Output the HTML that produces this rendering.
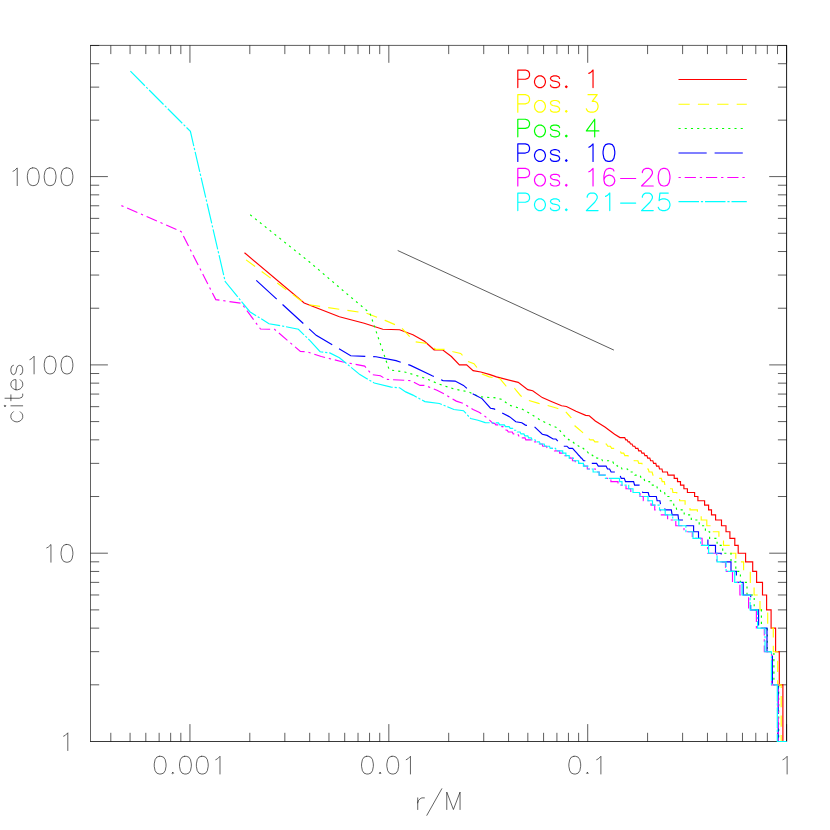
<!DOCTYPE html>
<html><head><meta charset="utf-8"><title>cites vs r/M</title>
<style>html,body{margin:0;padding:0;background:#fff;font-family:"Liberation Sans",sans-serif}svg{display:block}</style>
</head><body>
<svg width="830" height="830" viewBox="0 0 830 830">
<rect width="830" height="830" fill="#fff"/>
<path d="M90.50 45.10 V741.80" stroke="#000" stroke-width="0.62" fill="none"/>
<path d="M90.20 45.40 H786.90" stroke="#000" stroke-width="0.64" fill="none"/>
<path d="M90.20 741.50 H786.90" stroke="#000" stroke-width="0.78" fill="none"/>
<path d="M786.60 45.10 V741.80" stroke="#000" stroke-width="0.9" fill="none"/>
<path d="M110.80 45.40 v8.70 M110.80 741.50 v-8.70 M130.07 45.40 v8.70 M130.07 741.50 v-8.70 M145.82 45.40 v8.70 M145.82 741.50 v-8.70 M159.14 45.40 v8.70 M159.14 741.50 v-8.70 M170.67 45.40 v8.70 M170.67 741.50 v-8.70 M180.84 45.40 v8.70 M180.84 741.50 v-8.70 M189.94 45.40 v17.40 M189.94 741.50 v-17.40 M249.81 45.40 v8.70 M249.81 741.50 v-8.70 M284.84 45.40 v8.70 M284.84 741.50 v-8.70 M309.68 45.40 v8.70 M309.68 741.50 v-8.70 M328.96 45.40 v8.70 M328.96 741.50 v-8.70 M344.71 45.40 v8.70 M344.71 741.50 v-8.70 M358.02 45.40 v8.70 M358.02 741.50 v-8.70 M369.55 45.40 v8.70 M369.55 741.50 v-8.70 M379.73 45.40 v8.70 M379.73 741.50 v-8.70 M388.83 45.40 v17.40 M388.83 741.50 v-17.40 M448.70 45.40 v8.70 M448.70 741.50 v-8.70 M483.72 45.40 v8.70 M483.72 741.50 v-8.70 M508.57 45.40 v8.70 M508.57 741.50 v-8.70 M527.84 45.40 v8.70 M527.84 741.50 v-8.70 M543.59 45.40 v8.70 M543.59 741.50 v-8.70 M556.91 45.40 v8.70 M556.91 741.50 v-8.70 M568.44 45.40 v8.70 M568.44 741.50 v-8.70 M578.61 45.40 v8.70 M578.61 741.50 v-8.70 M587.71 45.40 v17.40 M587.71 741.50 v-17.40 M647.58 45.40 v8.70 M647.58 741.50 v-8.70 M682.61 45.40 v8.70 M682.61 741.50 v-8.70 M707.46 45.40 v8.70 M707.46 741.50 v-8.70 M726.73 45.40 v8.70 M726.73 741.50 v-8.70 M742.48 45.40 v8.70 M742.48 741.50 v-8.70 M755.79 45.40 v8.70 M755.79 741.50 v-8.70 M767.33 45.40 v8.70 M767.33 741.50 v-8.70 M777.50 45.40 v8.70 M777.50 741.50 v-8.70 M786.60 45.40 v17.40 M786.60 741.50 v-17.40 M90.50 684.82 h8.70 M786.60 684.82 h-8.70 M90.50 651.66 h8.70 M786.60 651.66 h-8.70 M90.50 628.13 h8.70 M786.60 628.13 h-8.70 M90.50 609.88 h8.70 M786.60 609.88 h-8.70 M90.50 594.97 h8.70 M786.60 594.97 h-8.70 M90.50 582.37 h8.70 M786.60 582.37 h-8.70 M90.50 571.45 h8.70 M786.60 571.45 h-8.70 M90.50 561.82 h8.70 M786.60 561.82 h-8.70 M90.50 553.20 h17.40 M786.60 553.20 h-17.40 M90.50 496.52 h8.70 M786.60 496.52 h-8.70 M90.50 463.36 h8.70 M786.60 463.36 h-8.70 M90.50 439.83 h8.70 M786.60 439.83 h-8.70 M90.50 421.58 h8.70 M786.60 421.58 h-8.70 M90.50 406.67 h8.70 M786.60 406.67 h-8.70 M90.50 394.07 h8.70 M786.60 394.07 h-8.70 M90.50 383.15 h8.70 M786.60 383.15 h-8.70 M90.50 373.52 h8.70 M786.60 373.52 h-8.70 M90.50 364.90 h17.40 M786.60 364.90 h-17.40 M90.50 308.22 h8.70 M786.60 308.22 h-8.70 M90.50 275.06 h8.70 M786.60 275.06 h-8.70 M90.50 251.53 h8.70 M786.60 251.53 h-8.70 M90.50 233.28 h8.70 M786.60 233.28 h-8.70 M90.50 218.37 h8.70 M786.60 218.37 h-8.70 M90.50 205.77 h8.70 M786.60 205.77 h-8.70 M90.50 194.85 h8.70 M786.60 194.85 h-8.70 M90.50 185.22 h8.70 M786.60 185.22 h-8.70 M90.50 176.60 h17.40 M786.60 176.60 h-17.40 M90.50 120.15 h8.70 M786.60 120.15 h-8.70 M90.50 87.13 h8.70 M786.60 87.13 h-8.70 M90.50 63.71 h8.70 M786.60 63.71 h-8.70 M90.50 45.53 h8.70 M786.60 45.53 h-8.70" fill="none" stroke="#000" stroke-width="0.64" stroke-linecap="butt"/>
<path d="M159.29 756.30 L156.77 757.14 L155.08 759.67 L154.24 763.88 L154.24 766.41 L155.08 770.63 L156.77 773.16 L159.29 774.00 L160.98 774.00 L163.51 773.16 L165.20 770.63 L166.04 766.41 L166.04 763.88 L165.20 759.67 L163.51 757.14 L160.98 756.30 L159.29 756.30 M172.78 772.31 L171.94 773.16 L172.78 774.00 L173.63 773.16 L172.78 772.31 M184.58 756.30 L182.06 757.14 L180.37 759.67 L179.53 763.88 L179.53 766.41 L180.37 770.63 L182.06 773.16 L184.58 774.00 L186.27 774.00 L188.80 773.16 L190.49 770.63 L191.33 766.41 L191.33 763.88 L190.49 759.67 L188.80 757.14 L186.27 756.30 L184.58 756.30 M201.44 756.30 L198.92 757.14 L197.23 759.67 L196.39 763.88 L196.39 766.41 L197.23 770.63 L198.92 773.16 L201.44 774.00 L203.13 774.00 L205.66 773.16 L207.35 770.63 L208.19 766.41 L208.19 763.88 L207.35 759.67 L205.66 757.14 L203.13 756.30 L201.44 756.30 M215.78 759.67 L217.46 758.83 L219.99 756.30 L219.99 774.00" fill="none" stroke="#000" stroke-width="0.62" stroke-linecap="round" stroke-linejoin="round"/>
<path d="M366.61 756.30 L364.08 757.14 L362.40 759.67 L361.55 763.88 L361.55 766.41 L362.40 770.63 L364.08 773.16 L366.61 774.00 L368.30 774.00 L370.83 773.16 L372.51 770.63 L373.35 766.41 L373.35 763.88 L372.51 759.67 L370.83 757.14 L368.30 756.30 L366.61 756.30 M380.10 772.31 L379.26 773.16 L380.10 774.00 L380.94 773.16 L380.10 772.31 M391.90 756.30 L389.37 757.14 L387.69 759.67 L386.84 763.88 L386.84 766.41 L387.69 770.63 L389.37 773.16 L391.90 774.00 L393.59 774.00 L396.12 773.16 L397.80 770.63 L398.64 766.41 L398.64 763.88 L397.80 759.67 L396.12 757.14 L393.59 756.30 L391.90 756.30 M406.23 759.67 L407.92 758.83 L410.45 756.30 L410.45 774.00" fill="none" stroke="#000" stroke-width="0.62" stroke-linecap="round" stroke-linejoin="round"/>
<path d="M573.93 756.30 L571.40 757.14 L569.71 759.67 L568.87 763.88 L568.87 766.41 L569.71 770.63 L571.40 773.16 L573.93 774.00 L575.61 774.00 L578.14 773.16 L579.83 770.63 L580.67 766.41 L580.67 763.88 L579.83 759.67 L578.14 757.14 L575.61 756.30 L573.93 756.30 M587.41 772.31 L586.57 773.16 L587.41 774.00 L588.26 773.16 L587.41 772.31 M596.69 759.67 L598.37 758.83 L600.90 756.30 L600.90 774.00" fill="none" stroke="#000" stroke-width="0.62" stroke-linecap="round" stroke-linejoin="round"/>
<path d="M782.93 759.67 L784.61 758.83 L787.14 756.30 L787.14 774.00" fill="none" stroke="#000" stroke-width="0.62" stroke-linecap="round" stroke-linejoin="round"/>
<path d="M63.60 736.17 L65.28 735.33 L67.81 732.80 L67.81 750.50" fill="none" stroke="#000" stroke-width="0.62" stroke-linecap="round" stroke-linejoin="round"/>
<path d="M46.74 547.87 L48.42 547.03 L50.95 544.50 L50.95 562.20 M66.13 544.50 L63.60 545.34 L61.91 547.87 L61.07 552.08 L61.07 554.61 L61.91 558.83 L63.60 561.36 L66.13 562.20 L67.81 562.20 L70.34 561.36 L72.03 558.83 L72.87 554.61 L72.87 552.08 L72.03 547.87 L70.34 545.34 L67.81 544.50 L66.13 544.50" fill="none" stroke="#000" stroke-width="0.62" stroke-linecap="round" stroke-linejoin="round"/>
<path d="M29.88 359.57 L31.56 358.73 L34.09 356.20 L34.09 373.90 M49.27 356.20 L46.74 357.04 L45.05 359.57 L44.21 363.78 L44.21 366.31 L45.05 370.53 L46.74 373.06 L49.27 373.90 L50.95 373.90 L53.48 373.06 L55.17 370.53 L56.01 366.31 L56.01 363.78 L55.17 359.57 L53.48 357.04 L50.95 356.20 L49.27 356.20 M66.13 356.20 L63.60 357.04 L61.91 359.57 L61.07 363.78 L61.07 366.31 L61.91 370.53 L63.60 373.06 L66.13 373.90 L67.81 373.90 L70.34 373.06 L72.03 370.53 L72.87 366.31 L72.87 363.78 L72.03 359.57 L70.34 357.04 L67.81 356.20 L66.13 356.20" fill="none" stroke="#000" stroke-width="0.62" stroke-linecap="round" stroke-linejoin="round"/>
<path d="M13.02 171.27 L14.70 170.43 L17.23 167.90 L17.23 185.60 M32.41 167.90 L29.88 168.74 L28.19 171.27 L27.35 175.48 L27.35 178.01 L28.19 182.23 L29.88 184.76 L32.41 185.60 L34.09 185.60 L36.62 184.76 L38.31 182.23 L39.15 178.01 L39.15 175.48 L38.31 171.27 L36.62 168.74 L34.09 167.90 L32.41 167.90 M49.27 167.90 L46.74 168.74 L45.05 171.27 L44.21 175.48 L44.21 178.01 L45.05 182.23 L46.74 184.76 L49.27 185.60 L50.95 185.60 L53.48 184.76 L55.17 182.23 L56.01 178.01 L56.01 175.48 L55.17 171.27 L53.48 168.74 L50.95 167.90 L49.27 167.90 M66.13 167.90 L63.60 168.74 L61.91 171.27 L61.07 175.48 L61.07 178.01 L61.91 182.23 L63.60 184.76 L66.13 185.60 L67.81 185.60 L70.34 184.76 L72.03 182.23 L72.87 178.01 L72.87 175.48 L72.03 171.27 L70.34 168.74 L67.81 167.90 L66.13 167.90" fill="none" stroke="#000" stroke-width="0.62" stroke-linecap="round" stroke-linejoin="round"/>
<path d="M417.73 797.88 L417.73 809.50 M417.73 802.86 L418.56 800.37 L420.22 798.71 L421.88 797.88 L424.38 797.88 M441.80 788.75 L426.86 815.31 M446.78 809.50 L446.78 792.07 L453.42 809.50 L460.06 792.07 L460.06 809.50" fill="none" stroke="#000" stroke-width="0.62" stroke-linecap="round" stroke-linejoin="round"/>
<path d="M13.43 411.72 L11.74 413.41 L10.90 415.10 L10.90 417.63 L11.74 419.31 L13.43 421.00 L15.96 421.84 L17.64 421.84 L20.17 421.00 L21.86 419.31 L22.70 417.63 L22.70 415.10 L21.86 413.41 L20.17 411.72 M5.00 406.67 L5.84 405.82 L5.00 404.98 L4.15 405.82 L5.00 406.67 M10.90 405.82 L22.70 405.82 M5.00 398.24 L19.33 398.24 L21.86 397.39 L22.70 395.71 L22.70 394.02 M10.90 400.77 L10.90 394.86 M15.96 389.81 L15.96 379.69 L14.27 379.69 L12.58 380.53 L11.74 381.38 L10.90 383.06 L10.90 385.59 L11.74 387.28 L13.43 388.96 L15.96 389.81 L17.64 389.81 L20.17 388.96 L21.86 387.28 L22.70 385.59 L22.70 383.06 L21.86 381.38 L20.17 379.69 M13.43 365.36 L11.74 366.20 L10.90 368.73 L10.90 371.26 L11.74 373.79 L13.43 374.63 L15.11 373.79 L15.96 372.10 L16.80 367.89 L17.64 366.20 L19.33 365.36 L20.17 365.36 L21.86 366.20 L22.70 368.73 L22.70 371.26 L21.86 373.79 L20.17 374.63" fill="none" stroke="#000" stroke-width="0.62" stroke-linecap="round" stroke-linejoin="round"/>
<path d="M397.7 250.5 L613.9 350.1" stroke="#000" stroke-width="0.64" fill="none"/>
<path d="M244.5 252.7 L304.2 303.0 L339.4 316.7 L364.2 323.3 L382.8 329.3 L399.6 329.8 L412.9 334.8 L424.5 341.3 L434.1 349.8 L442.5 349.8 L451.4 356.5 L459.4 364.9 L466.6 364.9 L473.1 370.6 L480.8 372.0 L490.0 374.6 L496.5 376.9 L518.2 382.4 L527.8 389.6 L532.7 390.8 L542.3 397.6 L551.9 401.7 L561.6 405.8 L566.4 406.5 L576.0 411.3 L585.7 415.4 L589.3 415.7 L595.3 421.0 L604.9 427.0 L614.6 434.2 L620.0 437.6 L623.8 437.6 L624.7 437.6 L625.7 439.8 L627.1 439.8 L628.1 441.9 L629.5 441.9 L630.5 444.0 L632.0 444.0 L633.0 446.2 L634.8 446.2 L635.7 448.4 L637.9 448.4 L638.7 450.8 L641.0 450.8 L641.9 453.1 L644.0 453.1 L644.9 455.6 L646.9 455.6 L647.7 458.1 L649.8 458.1 L650.6 460.7 L652.8 460.7 L653.6 463.4 L655.8 463.4 L656.5 466.1 L658.8 466.1 L659.5 469.0 L662.0 469.0 L662.6 472.0 L667.4 472.0 L668.0 475.1 L674.2 475.1 L674.2 478.3 L677.5 478.3 L677.5 481.6 L680.5 481.6 L680.5 485.1 L683.9 485.1 L683.9 488.7 L687.4 488.7 L687.4 492.5 L694.6 492.5 L694.6 496.5 L697.9 496.5 L697.9 500.7 L704.6 500.7 L704.6 505.1 L708.6 505.1 L708.6 509.8 L711.5 509.8 L711.5 514.8 L715.6 514.8 L715.6 520.0 L721.5 520.0 L721.5 525.7 L726.0 525.7 L726.0 531.7 L729.9 531.7 L729.9 538.3 L734.8 538.3 L734.8 545.4 L738.2 545.4 L738.2 553.2 L745.6 553.2 L745.6 561.8 L752.7 561.8 L752.7 571.4 L756.6 571.4 L756.6 582.4 L762.5 582.4 L762.5 595.0 L766.6 595.0 L766.6 609.9 L771.1 609.9 L771.1 628.1 L775.6 628.1 L775.6 651.7 L779.3 651.7 L779.3 684.8 L782.9 684.8 L782.9 741.5 L786.6 741.5" fill="none" stroke="#f00" stroke-width="1.15" stroke-linejoin="miter" stroke-linecap="butt"/>
<path d="M246.1 259.9 L306.0 304.3 L341.0 309.5 L365.8 313.0 L385.1 320.4 L400.8 327.1 L414.2 341.6 L425.7 343.3 L435.9 349.3 L445.0 349.3 L453.2 351.7 L460.7 353.4 L467.6 361.3 L474.0 363.7 L482.0 374.0 L489.3 376.9 L495.0 377.9" fill="none" stroke="#ff0" stroke-width="1.15" stroke-linejoin="miter" stroke-linecap="butt" stroke-dasharray="11.2 8.2" stroke-dashoffset="0.00"/>
<path d="M495.0 377.9 L500.1 378.8 L506.1 386.0 L514.6 388.4 L520.6 395.7 L529.0 400.5 L538.7 403.4 L547.1 405.3 L555.5 407.7 L565.2 411.3 L570.0 416.5" fill="none" stroke="#ff0" stroke-width="1.15" stroke-linejoin="miter" stroke-linecap="butt" stroke-dasharray="11.2 8.2" stroke-dashoffset="15.78"/>
<path d="M570.0 416.5 L571.2 417.8 L574.8 425.8 L582.0 431.8 L588.1 438.3 L588.5 438.3 L590.1 439.8 L593.3 439.8 L594.9 441.9 L600.3 441.9 L601.7 444.0 L606.4 444.0 L607.7 446.2 L610.4 446.2 L611.6 448.4 L615.3 448.4 L616.5 450.8 L620.1 450.8 L621.2 453.1 L623.7 453.1 L624.8 455.6 L628.0 455.6 L629.0 458.1 L633.2 458.1 L634.1 460.7 L637.9 460.7 L638.8 463.4 L641.9 463.4 L642.8 466.1 L644.9 466.1 L645.8 469.0 L648.3 469.0 L649.1 472.0 L652.1 472.0 L652.9 475.1 L656.4 475.1 L657.1 478.3 L661.4 478.3 L662.2 481.6 L664.3 481.6 L664.9 485.1 L668.0 485.1 L668.6 488.7 L672.3 488.7 L672.9 492.5 L676.8 492.5 L676.8 496.5 L679.6 496.5 L679.6 500.7 L685.1 500.7 L685.1 505.1 L690.0 505.1 L690.0 509.8 L697.4 509.8 L697.4 514.8 L701.2 514.8 L701.2 520.0 L706.0 520.0" fill="none" stroke="#ff0" stroke-width="1.15" stroke-linejoin="miter" stroke-linecap="butt" stroke-dasharray="11.2 8.2" stroke-dashoffset="9.18"/>
<path d="M706.0 520.0 L706.8 520.0 L706.8 525.7 L712.3 525.7 L712.3 531.7 L718.9 531.7 L718.9 538.3 L723.5 538.3 L723.5 545.4 L730.5 545.4 L730.5 553.2 L735.8 553.2 L735.8 561.8 L743.6 561.8 L743.6 571.4 L750.3 571.4 L750.3 582.4 L754.1 582.4 L754.1 595.0 L760.0 595.0 L760.0 609.9 L767.7 609.9 L767.7 628.1 L773.3 628.1 L773.3 651.7 L777.7 651.7 L777.7 684.8 L781.2 684.8 L781.2 741.5 L786.6 741.5" fill="none" stroke="#ff0" stroke-width="1.15" stroke-linejoin="miter" stroke-linecap="butt" stroke-dasharray="11.2 8.2" stroke-dashoffset="0.90"/>
<path d="M250.2 214.8 L310.1 262.5 L345.1 292.3 L369.9 313.1 L389.2 369.8 L405.7 372.2 L424.9 378.2 L439.4 384.2 L453.9 389.0 L468.3 391.8 L479.6 396.8 L490.0 397.5 L494.1 397.6 L501.3 399.3 L509.8 405.3 L521.8 408.9 L530.2 413.7 L539.9 419.8 L549.5 424.6 L558.0 428.2 L562.8 434.2 L566.0 437.5 L566.7 437.5 L568.8 439.8 L569.4 439.8 L571.5 441.9 L572.9 441.9 L574.9 444.0 L576.6 444.0 L578.5 446.2 L580.1 446.2 L582.0 448.4 L583.4 448.4 L585.2 450.8 L586.7 450.8 L588.4 453.1 L590.9 453.1 L592.5 455.6 L595.2 455.6 L596.8 458.1 L601.1 458.1 L602.5 460.7 L612.3 460.7 L613.6 463.4 L616.1 463.4 L617.3 466.1 L620.8 466.1 L622.0 469.0 L627.5 469.0 L628.6 472.0 L633.9 472.0 L634.9 475.1 L640.1 475.1 L641.1 478.3 L644.0 478.3 L644.8 481.6 L649.6 481.6 L650.4 485.1 L656.6 485.1 L657.4 488.7 L660.1 488.7 L660.9 492.5 L664.6 492.5 L665.4 496.5 L669.5 496.5 L670.1 500.7 L673.2 500.7 L673.8 505.1 L676.0 505.1 L676.6 509.8 L684.2 509.8 L684.2 514.8 L691.3 514.8 L691.3 520.0 L699.2 520.0 L699.2 525.7 L705.4 525.7 L705.4 531.7 L709.6 531.7 L709.6 538.3 L717.1 538.3 L717.1 545.4 L722.7 545.4 L722.7 553.2 L731.0 553.2 L731.0 561.8 L735.8 561.8 L735.8 571.4 L740.4 571.4 L740.4 582.4 L747.0 582.4 L747.0 595.0 L754.2 595.0 L754.2 609.9 L761.4 609.9 L761.4 628.1 L767.4 628.1 L767.4 651.7 L773.9 651.7 L773.9 684.8 L778.7 684.8 L778.7 741.5 L786.6 741.5" fill="none" stroke="#0f0" stroke-width="1.15" stroke-linejoin="miter" stroke-linecap="butt" stroke-dasharray="2.1 4.12" stroke-dashoffset="0"/>
<path d="M256.3 280.4 L316.2 335.3 L350.7 355.8 L376.0 356.7 L396.0 360.6 L410.5 365.4 L432.2 375.8 L443.0 380.6 L455.1 381.1 L463.5 385.4 L473.1 393.9 L482.0 398.6 L490.5 408.2 L494.1 408.9 L502.0 413.0 L509.8 416.9 L515.8 421.7 L521.8 422.7 L525.4 425.1 L533.9 426.3 L542.3 434.2 L547.1 435.4 L553.1 439.0 L555.9 439.0 L558.5 441.9 L558.5 441.9 L561.0 444.0 L561.1 444.0 L563.6 446.2 L566.9 446.2 L569.2 448.4 L572.6 448.4 L574.8 450.8 L574.8 450.8 L576.9 453.1 L576.9 453.1 L579.0 455.6 L579.2 455.6 L581.2 458.1 L581.6 458.1 L583.5 460.7 L586.9 460.7 L588.7 463.4 L596.6 463.4 L598.3 466.1 L606.1 466.1 L607.5 469.0 L609.6 469.0 L611.1 472.0 L614.9 472.0 L616.3 475.1 L619.9 475.1 L621.2 478.3 L624.3 478.3 L625.5 481.6 L633.6 481.6 L634.6 485.1 L636.0 485.1" fill="none" stroke="#00f" stroke-width="1.15" stroke-linejoin="miter" stroke-linecap="butt" stroke-dasharray="28.2 7.9" stroke-dashoffset="0.50"/>
<path d="M636.0 485.1 L639.1 485.1 L640.1 488.7 L641.7 488.7 L642.7 492.5 L648.2 492.5 L649.2 496.5 L656.3 496.5 L657.1 500.7 L659.9 500.7 L660.7 505.1 L664.2 505.1 L665.0 509.8 L671.3 509.8 L672.1 514.8 L678.0 514.8 L678.6 520.0 L685.0 520.0 L685.6 525.7 L693.6 525.7 L693.6 531.7 L698.5 531.7 L698.5 538.3 L707.9 538.3 L707.9 545.4 L715.5 545.4 L715.5 553.2 L721.2 553.2 L721.2 561.8 L731.0 561.8 L731.0 571.4 L736.4 571.4 L736.4 582.4 L743.2 582.4 L743.2 595.0 L750.7 595.0 L750.7 609.9 L758.6 609.9 L758.6 628.1 L767.0 628.1 L767.0 651.7 L772.4 651.7 L772.4 684.8 L778.2 684.8 L778.2 741.5 L786.6 741.5" fill="none" stroke="#00f" stroke-width="1.15" stroke-linejoin="miter" stroke-linecap="butt" stroke-dasharray="28.2 7.9" stroke-dashoffset="24.65"/>
<path d="M121.4 205.6 L181.2 231.6 L215.8 299.6 L241.5 303.3 L260.5 329.0 L274.5 329.3 L300.4 351.4 L306.9 351.7 L321.3 356.5 L343.0 362.0 L364.7 366.1 L371.9 374.6 L380.4 375.8 L386.4 379.4 L410.5 380.6 L420.1 385.4 L424.9 385.4 L437.0 390.2 L444.2 393.9 L456.3 401.1 L463.5 403.5 L473.1 409.5 L479.6 412.5 L488.1 418.6 L492.9 423.4 L494.7 423.4 L495.8 424.9 L500.7 424.9 L501.8 426.6 L502.9 426.6 L503.9 428.4 L505.1 428.4 L506.1 430.2 L507.3 430.2 L508.3 432.0 L512.3 432.0 L513.2 433.9 L517.8 433.9 L518.7 435.8 L521.3 435.8 L522.2 437.8 L525.0 437.8 L525.8 439.8 L531.8 439.8 L532.5 441.9 L538.0 441.9 L538.7 444.0 L542.2 444.0 L542.8 446.2 L546.5 446.2 L547.1 448.4 L554.5 448.4 L554.5 450.8 L559.6 450.8 L559.6 453.1 L564.9 453.1 L564.9 455.6 L569.8 455.6 L569.8 458.1 L572.5 458.1 L572.5 460.7 L575.3 460.7 L575.3 463.4 L583.8 463.4 L583.8 466.1 L587.3 466.1 L587.3 469.0 L595.4 469.0 L595.4 472.0 L599.2 472.0 L599.2 475.1 L605.0 475.1 L605.0 478.3 L610.9 478.3 L610.9 481.6 L618.0 481.6 L618.0 485.1 L626.0 485.1 L626.0 488.7 L630.8 488.7 L630.8 492.5 L640.0 492.5 L640.0 496.5 L643.3 496.5 L643.3 500.7 L651.0 500.7 L651.0 505.1 L654.7 505.1 L654.7 509.8 L660.5 509.8 L660.5 514.8 L667.6 514.8 L667.6 520.0 L675.8 520.0 L675.8 525.7 L684.0 525.7 L684.0 531.7 L692.3 531.7 L692.3 538.3 L702.1 538.3 L702.1 545.4 L707.6 545.4 L707.6 553.2 L716.7 553.2 L716.7 561.8 L725.5 561.8 L725.5 571.4 L732.5 571.4 L732.5 582.4 L739.9 582.4 L739.9 595.0 L748.6 595.0 L748.6 609.9 L756.4 609.9 L756.4 628.1 L764.3 628.1 L764.3 651.7 L771.6 651.7 L771.6 684.8 L778.2 684.8 L778.2 741.5 L786.6 741.5" fill="none" stroke="#f0f" stroke-width="1.15" stroke-linejoin="miter" stroke-linecap="butt" stroke-dasharray="11.2 3.9 2.3 3.9" stroke-dashoffset="15.1"/>
<path d="M130.4 71.2 L190.4 131.4 L225.2 281.6 L249.8 311.7 L269.0 323.7 L285.1 326.5 L298.4 329.3 L310.0 340.6 L320.1 351.7 L329.8 352.9 L339.4 357.7 L359.9 374.6 L374.3 383.0 L391.2 387.1 L399.6 387.8 L405.7 391.9 L412.9 395.1 L424.9 401.6 L439.4 403.5 L453.9 409.5 L463.5 410.7 L470.7 418.6 L478.0 420.2 L485.2 422.6 L494.1 422.9 L498.5 422.9 L499.7 424.9 L504.3 424.9 L505.5 426.6 L509.1 426.6 L510.2 428.4 L512.7 428.4 L513.7 430.2 L516.4 430.2 L517.3 432.0 L520.1 432.0 L521.0 433.9 L523.9 433.9 L524.8 435.8 L527.8 435.8 L528.6 437.8 L531.3 437.8 L532.1 439.8 L535.1 439.8 L535.9 441.9 L539.4 441.9 L540.2 444.0 L544.2 444.0 L544.9 446.2 L549.5 446.2 L550.2 448.4 L555.6 448.4 L556.2 450.8 L562.7 450.8 L562.7 453.1 L565.9 453.1 L565.9 455.6 L569.2 455.6 L569.2 458.1 L573.4 458.1 L573.4 460.7 L578.6 460.7 L578.6 463.4 L583.4 463.4 L583.4 466.1 L587.9 466.1 L587.9 469.0 L593.1 469.0 L593.1 472.0 L599.1 472.0 L599.1 475.1 L605.4 475.1 L605.4 478.3 L619.5 478.3 L619.5 481.6 L622.0 481.6 L622.0 485.1 L628.7 485.1 L628.7 488.7 L633.0 488.7 L633.0 492.5 L639.5 492.5 L639.5 496.5 L648.0 496.5 L648.0 500.7 L652.5 500.7 L652.5 505.1 L659.5 505.1 L659.5 509.8 L665.2 509.8 L665.2 514.8 L672.7 514.8 L672.7 520.0 L678.8 520.0 L678.8 525.7 L685.9 525.7 L685.9 531.7 L693.0 531.7 L693.0 538.3 L700.6 538.3 L700.6 545.4 L708.6 545.4 L708.6 553.2 L717.1 553.2 L717.1 561.8 L726.1 561.8 L726.1 571.4 L734.7 571.4 L734.7 582.4 L742.0 582.4 L742.0 595.0 L750.1 595.0 L750.1 609.9 L757.6 609.9 L757.6 628.1 L765.0 628.1 L765.0 651.7 L771.4 651.7 L771.4 684.8 L777.3 684.8 L777.3 741.5 L786.6 741.5" fill="none" stroke="#0ff" stroke-width="1.15" stroke-linejoin="miter" stroke-linecap="butt" stroke-dasharray="20.5 1.9 2.2 1.9" stroke-dashoffset="0"/>
<path d="M517.80 87.60 L517.80 70.04 L525.32 70.04 L527.83 70.88 L528.67 71.72 L529.50 73.39 L529.50 75.90 L528.67 77.57 L527.83 78.40 L525.32 79.24 L517.80 79.24 M538.70 75.90 L537.03 76.73 L535.36 78.40 L534.52 80.91 L534.52 82.58 L535.36 85.09 L537.03 86.76 L538.70 87.60 L541.21 87.60 L542.88 86.76 L544.55 85.09 L545.39 82.58 L545.39 80.91 L544.55 78.40 L542.88 76.73 L541.21 75.90 L538.70 75.90 M559.60 78.40 L558.76 76.73 L556.26 75.90 L553.75 75.90 L551.24 76.73 L550.40 78.40 L551.24 80.08 L552.91 80.91 L557.09 81.75 L558.76 82.58 L559.60 84.26 L559.60 85.09 L558.76 86.76 L556.26 87.60 L553.75 87.60 L551.24 86.76 L550.40 85.09 M566.29 85.93 L565.45 86.76 L566.29 87.60 L567.12 86.76 L566.29 85.93 M588.86 73.39 L590.53 72.55 L593.04 70.04 L593.04 87.60" fill="none" stroke="#f00" stroke-width="1.2" stroke-linecap="round" stroke-linejoin="round"/>
<path d="M678.5 79.5 L746.8 79.5" fill="none" stroke="#f00" stroke-width="1.15" stroke-linejoin="miter" stroke-linecap="butt"/>
<path d="M517.80 112.20 L517.80 94.64 L525.32 94.64 L527.83 95.48 L528.67 96.32 L529.50 97.99 L529.50 100.50 L528.67 102.17 L527.83 103.00 L525.32 103.84 L517.80 103.84 M538.70 100.50 L537.03 101.33 L535.36 103.00 L534.52 105.51 L534.52 107.18 L535.36 109.69 L537.03 111.36 L538.70 112.20 L541.21 112.20 L542.88 111.36 L544.55 109.69 L545.39 107.18 L545.39 105.51 L544.55 103.00 L542.88 101.33 L541.21 100.50 L538.70 100.50 M559.60 103.00 L558.76 101.33 L556.26 100.50 L553.75 100.50 L551.24 101.33 L550.40 103.00 L551.24 104.68 L552.91 105.51 L557.09 106.35 L558.76 107.18 L559.60 108.86 L559.60 109.69 L558.76 111.36 L556.26 112.20 L553.75 112.20 L551.24 111.36 L550.40 109.69 M566.29 110.53 L565.45 111.36 L566.29 112.20 L567.12 111.36 L566.29 110.53 M588.02 94.64 L597.22 94.64 L592.20 101.33 L594.71 101.33 L596.38 102.17 L597.22 103.00 L598.06 105.51 L598.06 107.18 L597.22 109.69 L595.55 111.36 L593.04 112.20 L590.53 112.20 L588.02 111.36 L587.19 110.53 L586.35 108.86" fill="none" stroke="#ff0" stroke-width="1.2" stroke-linecap="round" stroke-linejoin="round"/>
<path d="M678.5 104.2 L746.8 104.2" fill="none" stroke="#ff0" stroke-width="1.15" stroke-linejoin="miter" stroke-linecap="butt" stroke-dasharray="11.2 8.2" stroke-dashoffset="0"/>
<path d="M517.80 136.80 L517.80 119.24 L525.32 119.24 L527.83 120.08 L528.67 120.92 L529.50 122.59 L529.50 125.10 L528.67 126.77 L527.83 127.60 L525.32 128.44 L517.80 128.44 M538.70 125.10 L537.03 125.93 L535.36 127.60 L534.52 130.11 L534.52 131.78 L535.36 134.29 L537.03 135.96 L538.70 136.80 L541.21 136.80 L542.88 135.96 L544.55 134.29 L545.39 131.78 L545.39 130.11 L544.55 127.60 L542.88 125.93 L541.21 125.10 L538.70 125.10 M559.60 127.60 L558.76 125.93 L556.26 125.10 L553.75 125.10 L551.24 125.93 L550.40 127.60 L551.24 129.28 L552.91 130.11 L557.09 130.95 L558.76 131.78 L559.60 133.46 L559.60 134.29 L558.76 135.96 L556.26 136.80 L553.75 136.80 L551.24 135.96 L550.40 134.29 M566.29 135.13 L565.45 135.96 L566.29 136.80 L567.12 135.96 L566.29 135.13 M594.71 119.24 L586.35 130.95 L598.89 130.95 M594.71 119.24 L594.71 136.80" fill="none" stroke="#0f0" stroke-width="1.2" stroke-linecap="round" stroke-linejoin="round"/>
<path d="M678.5 128.5 L746.8 128.5" fill="none" stroke="#0f0" stroke-width="1.15" stroke-linejoin="miter" stroke-linecap="butt" stroke-dasharray="2.1 4.12" stroke-dashoffset="0"/>
<path d="M517.80 161.40 L517.80 143.84 L525.32 143.84 L527.83 144.68 L528.67 145.52 L529.50 147.19 L529.50 149.70 L528.67 151.37 L527.83 152.20 L525.32 153.04 L517.80 153.04 M538.70 149.70 L537.03 150.53 L535.36 152.20 L534.52 154.71 L534.52 156.38 L535.36 158.89 L537.03 160.56 L538.70 161.40 L541.21 161.40 L542.88 160.56 L544.55 158.89 L545.39 156.38 L545.39 154.71 L544.55 152.20 L542.88 150.53 L541.21 149.70 L538.70 149.70 M559.60 152.20 L558.76 150.53 L556.26 149.70 L553.75 149.70 L551.24 150.53 L550.40 152.20 L551.24 153.88 L552.91 154.71 L557.09 155.55 L558.76 156.38 L559.60 158.06 L559.60 158.89 L558.76 160.56 L556.26 161.40 L553.75 161.40 L551.24 160.56 L550.40 158.89 M566.29 159.73 L565.45 160.56 L566.29 161.40 L567.12 160.56 L566.29 159.73 M588.86 147.19 L590.53 146.35 L593.04 143.84 L593.04 161.40 M608.09 143.84 L605.58 144.68 L603.91 147.19 L603.07 151.37 L603.07 153.88 L603.91 158.06 L605.58 160.56 L608.09 161.40 L609.76 161.40 L612.27 160.56 L613.94 158.06 L614.78 153.88 L614.78 151.37 L613.94 147.19 L612.27 144.68 L609.76 143.84 L608.09 143.84" fill="none" stroke="#00f" stroke-width="1.2" stroke-linecap="round" stroke-linejoin="round"/>
<path d="M678.5 153.0 L746.8 153.0" fill="none" stroke="#00f" stroke-width="1.15" stroke-linejoin="miter" stroke-linecap="butt" stroke-dasharray="28.2 7.9" stroke-dashoffset="0"/>
<path d="M517.80 186.00 L517.80 168.44 L525.32 168.44 L527.83 169.28 L528.67 170.12 L529.50 171.79 L529.50 174.30 L528.67 175.97 L527.83 176.80 L525.32 177.64 L517.80 177.64 M538.70 174.30 L537.03 175.13 L535.36 176.80 L534.52 179.31 L534.52 180.98 L535.36 183.49 L537.03 185.16 L538.70 186.00 L541.21 186.00 L542.88 185.16 L544.55 183.49 L545.39 180.98 L545.39 179.31 L544.55 176.80 L542.88 175.13 L541.21 174.30 L538.70 174.30 M559.60 176.80 L558.76 175.13 L556.26 174.30 L553.75 174.30 L551.24 175.13 L550.40 176.80 L551.24 178.48 L552.91 179.31 L557.09 180.15 L558.76 180.98 L559.60 182.66 L559.60 183.49 L558.76 185.16 L556.26 186.00 L553.75 186.00 L551.24 185.16 L550.40 183.49 M566.29 184.33 L565.45 185.16 L566.29 186.00 L567.12 185.16 L566.29 184.33 M588.86 171.79 L590.53 170.95 L593.04 168.44 L593.04 186.00 M613.94 170.95 L613.10 169.28 L610.60 168.44 L608.92 168.44 L606.42 169.28 L604.74 171.79 L603.91 175.97 L603.91 180.15 L604.74 183.49 L606.42 185.16 L608.92 186.00 L609.76 186.00 L612.27 185.16 L613.94 183.49 L614.78 180.98 L614.78 180.15 L613.94 177.64 L612.27 175.97 L609.76 175.13 L608.92 175.13 L606.42 175.97 L604.74 177.64 L603.91 180.15 M620.63 178.48 L635.68 178.48 M642.36 172.62 L642.36 171.79 L643.20 170.12 L644.04 169.28 L645.71 168.44 L649.05 168.44 L650.72 169.28 L651.56 170.12 L652.40 171.79 L652.40 173.46 L651.56 175.13 L649.89 177.64 L641.53 186.00 L653.23 186.00 M663.26 168.44 L660.76 169.28 L659.08 171.79 L658.25 175.97 L658.25 178.48 L659.08 182.66 L660.76 185.16 L663.26 186.00 L664.94 186.00 L667.44 185.16 L669.12 182.66 L669.95 178.48 L669.95 175.97 L669.12 171.79 L667.44 169.28 L664.94 168.44 L663.26 168.44" fill="none" stroke="#f0f" stroke-width="1.2" stroke-linecap="round" stroke-linejoin="round"/>
<path d="M678.5 177.5 L746.8 177.5" fill="none" stroke="#f0f" stroke-width="1.15" stroke-linejoin="miter" stroke-linecap="butt" stroke-dasharray="11.2 3.9 2.3 3.9" stroke-dashoffset="15.1"/>
<path d="M517.80 210.60 L517.80 193.04 L525.32 193.04 L527.83 193.88 L528.67 194.72 L529.50 196.39 L529.50 198.90 L528.67 200.57 L527.83 201.40 L525.32 202.24 L517.80 202.24 M538.70 198.90 L537.03 199.73 L535.36 201.40 L534.52 203.91 L534.52 205.58 L535.36 208.09 L537.03 209.76 L538.70 210.60 L541.21 210.60 L542.88 209.76 L544.55 208.09 L545.39 205.58 L545.39 203.91 L544.55 201.40 L542.88 199.73 L541.21 198.90 L538.70 198.90 M559.60 201.40 L558.76 199.73 L556.26 198.90 L553.75 198.90 L551.24 199.73 L550.40 201.40 L551.24 203.08 L552.91 203.91 L557.09 204.75 L558.76 205.58 L559.60 207.26 L559.60 208.09 L558.76 209.76 L556.26 210.60 L553.75 210.60 L551.24 209.76 L550.40 208.09 M566.29 208.93 L565.45 209.76 L566.29 210.60 L567.12 209.76 L566.29 208.93 M587.19 197.22 L587.19 196.39 L588.02 194.72 L588.86 193.88 L590.53 193.04 L593.88 193.04 L595.55 193.88 L596.38 194.72 L597.22 196.39 L597.22 198.06 L596.38 199.73 L594.71 202.24 L586.35 210.60 L598.06 210.60 M605.58 196.39 L607.25 195.55 L609.76 193.04 L609.76 210.60 M620.63 203.08 L635.68 203.08 M642.36 197.22 L642.36 196.39 L643.20 194.72 L644.04 193.88 L645.71 193.04 L649.05 193.04 L650.72 193.88 L651.56 194.72 L652.40 196.39 L652.40 198.06 L651.56 199.73 L649.89 202.24 L641.53 210.60 L653.23 210.60 M668.28 193.04 L659.92 193.04 L659.08 200.57 L659.92 199.73 L662.43 198.90 L664.94 198.90 L667.44 199.73 L669.12 201.40 L669.95 203.91 L669.95 205.58 L669.12 208.09 L667.44 209.76 L664.94 210.60 L662.43 210.60 L659.92 209.76 L659.08 208.93 L658.25 207.26" fill="none" stroke="#0ff" stroke-width="1.2" stroke-linecap="round" stroke-linejoin="round"/>
<path d="M678.5 201.6 L746.8 201.6" fill="none" stroke="#0ff" stroke-width="1.15" stroke-linejoin="miter" stroke-linecap="butt" stroke-dasharray="20.5 1.9 2.2 1.9" stroke-dashoffset="0"/>
</svg>
</body></html>
